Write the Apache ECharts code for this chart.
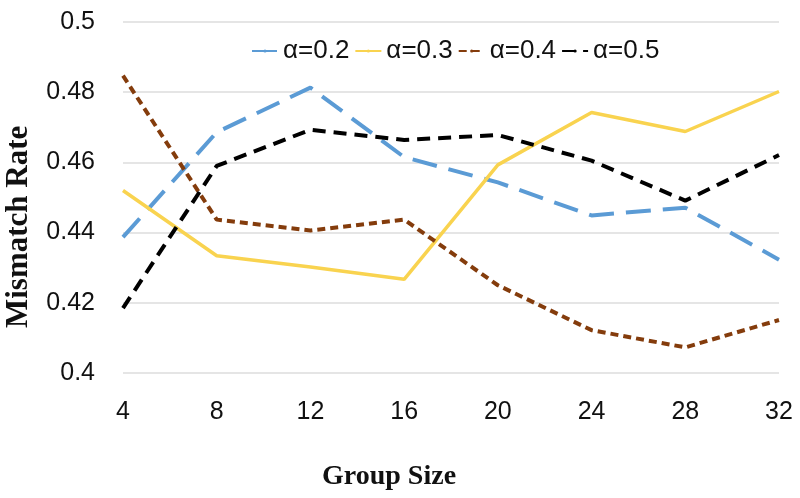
<!DOCTYPE html>
<html>
<head>
<meta charset="utf-8">
<style>html,body{margin:0;padding:0;background:#fff;}#c{width:800px;height:498px;}</style>
<script src="https://cdn.jsdelivr.net/npm/echarts@6/dist/echarts.min.js"></script>
</head>
<body>
<div id="c"></div>
<script>
const categories = ['4','8','12','16','20','24','28','32'];
const a02 = [0.4387, 0.4686, 0.4813, 0.4615, 0.4543, 0.4449, 0.4471, 0.4323];
const a03 = [0.4520, 0.4334, 0.4302, 0.4267, 0.4593, 0.4742, 0.4688, 0.4802];
const a04 = [0.4847, 0.4437, 0.4406, 0.4437, 0.4250, 0.4122, 0.4073, 0.4151];
const a05 = [0.4185, 0.4590, 0.4693, 0.4664, 0.4678, 0.4605, 0.4491, 0.4621];
const seriesNames = ['α=0.2','α=0.3','α=0.4','α=0.5'];

const chart = echarts.init(document.getElementById('c'));
const numFont = '"Liberation Sans Narrow", "Arial Narrow", "Liberation Sans", sans-serif';
function mk(name, data, color, type, width) {
  return {
    name: name, type: 'line', data: data, symbol: 'none', smooth: false,
    lineStyle: { color: color, width: width, type: type, cap: 'butt' },
    itemStyle: { color: color }
  };
}
chart.setOption({
  animation: false,
  backgroundColor: '#fff',
  grid: { left: 123, right: 21, top: 22, bottom: 125 },
  legend: {
    data: seriesNames,
    left: 246, top: 33,
    itemWidth: 26, itemHeight: 4, itemGap: 5,
    textStyle: { fontFamily: numFont, fontSize: 26, color: '#111' }
  },
  xAxis: {
    type: 'category', data: categories, boundaryGap: false,
    axisLine: { show: false }, axisTick: { show: false },
    axisLabel: { margin: 27, fontFamily: numFont, fontSize: 25, color: '#111' },
    splitLine: { show: false }
  },
  yAxis: {
    type: 'value', min: 0.4, max: 0.5, interval: 0.02,
    axisLine: { show: false }, axisTick: { show: false },
    axisLabel: { margin: 28, fontFamily: numFont, fontSize: 25, color: '#111' },
    splitLine: { lineStyle: { color: '#dcdcdc', width: 1.5 } }
  },
  graphic: [
    { type: 'text', left: 322, top: 463, style: { text: 'Group Size', font: 'bold 28px "Liberation Serif", serif', fill: '#111' } },
    { type: 'text', x: 3, y: 328, rotation: Math.PI / 2, style: { text: 'Mismatch Rate', font: 'bold 31px "Liberation Serif", serif', fill: '#111', align: 'left', verticalAlign: 'top' } }
  ],
  series: [
    mk(seriesNames[0], a02, '#5b9bd5', [25, 12], 4),
    mk(seriesNames[1], a03, '#f9d34f', 'solid', 3.5),
    mk(seriesNames[2], a04, '#843c0c', [8, 5], 4),
    mk(seriesNames[3], a05, '#000000', [13, 8], 4)
  ]
});
</script>
</body>
</html>
